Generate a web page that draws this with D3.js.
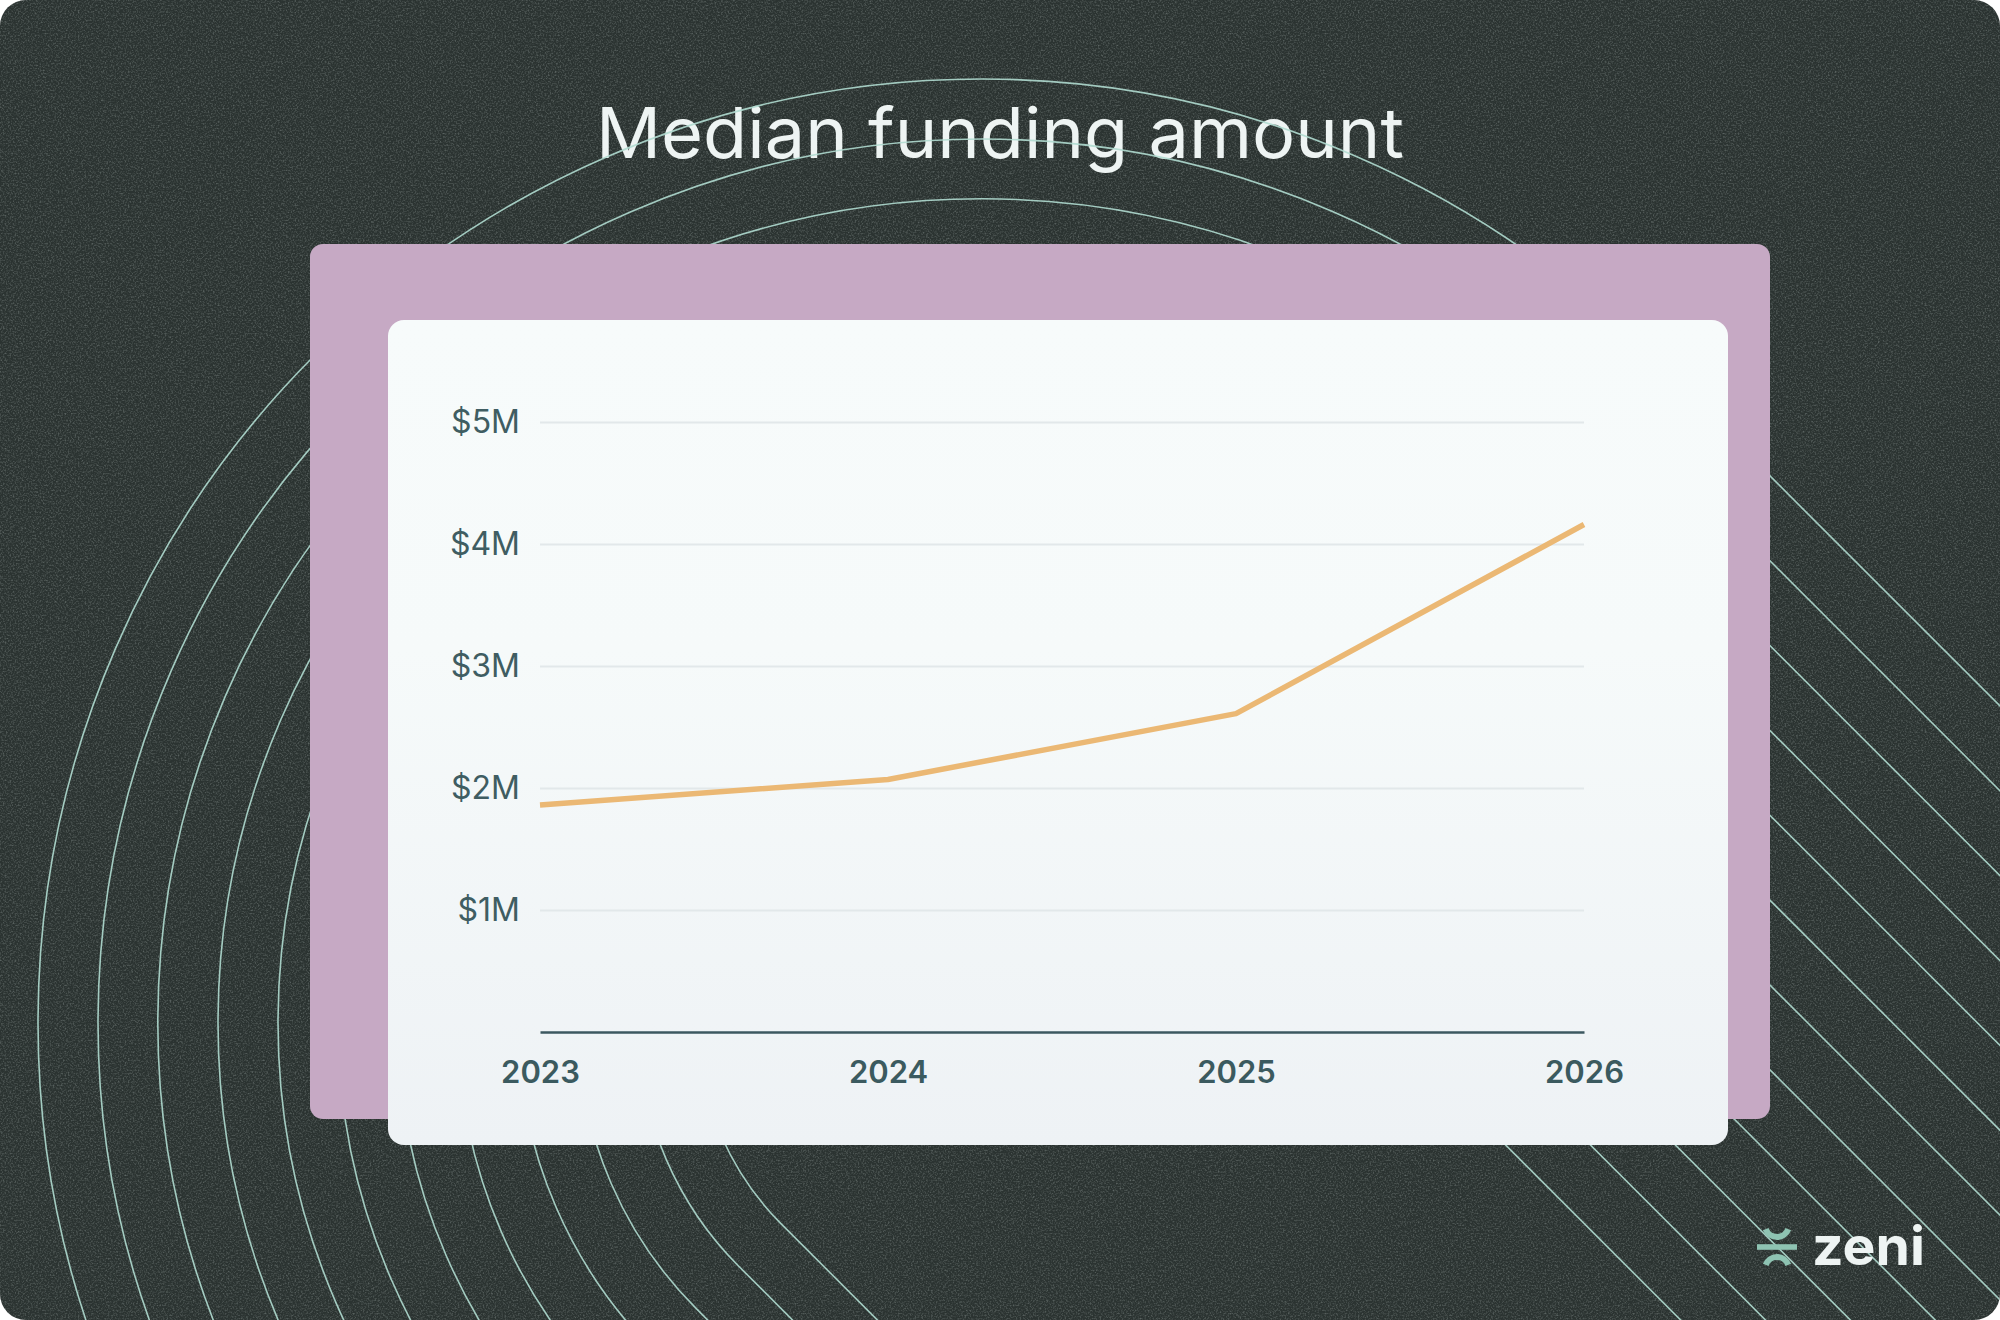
<!DOCTYPE html>
<html>
<head>
<meta charset="utf-8">
<script src="https://cdn.jsdelivr.net/npm/d3@7"></script>
<style>
  html, body { margin: 0; padding: 0; background: #ffffff; }
  svg { display: block; }
</style>
</head>
<body>
<svg id="chart" width="2000" height="1320"></svg>
<script>
// chart data
const years = ["2023", "2024", "2025", "2026"];
const medianFunding = [1.86, 2.07, 2.61, 4.16];   // $ millions
const yTicks = [1, 2, 3, 4, 5];
const title = "Median funding amount";

const svg = d3.select("#chart");
const W = +svg.attr("width"), H = +svg.attr("height");

const defs = svg.append("defs");

// grain for the dark background
const noise = defs.append("filter").attr("id", "grain")
  .attr("x", 0).attr("y", 0).attr("width", "100%").attr("height", "100%");
noise.append("feTurbulence")
  .attr("type", "fractalNoise")
  .attr("baseFrequency", 0.6)
  .attr("numOctaves", 2)
  .attr("seed", 7);
noise.append("feColorMatrix")
  .attr("type", "matrix")
  .attr("values", "0 0 0 0 0.55  0 0 0 0 0.62  0 0 0 0 0.6  1.8 0 0 0 -0.8");

const cardGrad = defs.append("linearGradient").attr("id", "cardGrad")
  .attr("x1", 0).attr("y1", 0).attr("x2", 0).attr("y2", 1);
cardGrad.append("stop").attr("offset", "0%").attr("stop-color", "#f7fbfb");
cardGrad.append("stop").attr("offset", "40%").attr("stop-color", "#f6fafa");
cardGrad.append("stop").attr("offset", "100%").attr("stop-color", "#eef2f5");

// background
svg.append("rect")
  .attr("width", W).attr("height", H)
  .attr("rx", 26)
  .attr("fill", "#2b3331");
defs.append("clipPath").attr("id", "bgClip")
  .append("rect").attr("width", W).attr("height", H).attr("rx", 26);
svg.append("rect")
  .attr("width", W).attr("height", H)
  .attr("clip-path", "url(#bgClip)")
  .attr("filter", "url(#grain)")
  .attr("opacity", 0.4);

// title
svg.append("text")
  .attr("x", 1000)
  .attr("y", 158)
  .attr("text-anchor", "middle")
  .attr("font-family", "Inter, 'Open Sans', sans-serif")
  .attr("font-size", 70)
  .attr("font-weight", 400)
  .attr("fill", "#eef4f3")
  .attr("textLength", 808)
  .attr("lengthAdjust", "spacingAndGlyphs")
  .text(title);

// concentric capsule outlines, round end top-left, running off down-right
const cx = 982, cy = 1023, s = Math.SQRT1_2;
const radii = d3.range(284, 945, 60);
const deco = svg.append("g").attr("clip-path", "url(#bgClip)");
deco.selectAll("path")
  .data(radii)
  .join("path")
  .attr("d", r => {
    const p = d3.path();
    const x1 = cx - r * s, y1 = cy + r * s;
    const x2 = cx + r * s, y2 = cy - r * s;
    p.moveTo(x1 + 1500, y1 + 1500);
    p.lineTo(x1, y1);
    p.arc(cx, cy, r, 3 * Math.PI / 4, 7 * Math.PI / 4, false);
    p.lineTo(x2 + 1500, y2 + 1500);
    return p.toString();
  })
  .attr("fill", "none")
  .attr("stroke", "#b0dcd0")
  .attr("stroke-opacity", 0.9)
  .attr("stroke-width", 1.6);

// cards
svg.append("rect")
  .attr("x", 310).attr("y", 244)
  .attr("width", 1460).attr("height", 875)
  .attr("rx", 13)
  .attr("fill", "#c6a9c4");

svg.append("rect")
  .attr("x", 388).attr("y", 320)
  .attr("width", 1340).attr("height", 825)
  .attr("rx", 16)
  .attr("fill", "url(#cardGrad)");

// chart
const x = d3.scalePoint().domain(years).range([540, 1584]);
const y = d3.scaleLinear().domain([0, 5]).range([1032, 422]);

const yAxis = svg.append("g")
  .attr("transform", "translate(540,0)")
  .call(d3.axisLeft(y)
    .tickValues(yTicks)
    .tickSize(-(1584 - 540))
    .tickPadding(20)
    .tickFormat(d => `$${d}M`));
yAxis.select(".domain").remove();
yAxis.selectAll(".tick line")
  .attr("stroke", "#e2e8ea")
  .attr("stroke-width", 2);
yAxis.selectAll(".tick text")
  .attr("font-family", "Inter, 'Open Sans', sans-serif")
  .attr("font-size", 32)
  .attr("font-weight", 400)
  .attr("fill", "#3f5d62");

const xAxis = svg.append("g")
  .attr("transform", `translate(0,${y(0)})`)
  .call(d3.axisBottom(x).tickSize(0).tickPadding(29).tickSizeOuter(0));
xAxis.select(".domain")
  .attr("stroke", "#3d5860")
  .attr("stroke-width", 2.5);
xAxis.selectAll(".tick text")
  .attr("font-family", "Inter, 'Open Sans', sans-serif")
  .attr("font-size", 31)
  .attr("font-weight", 600)
  .attr("fill", "#3b5a5f");

const line = d3.line()
  .x((d, i) => x(years[i]))
  .y(d => y(d));

svg.append("path")
  .datum(medianFunding)
  .attr("d", line)
  .attr("fill", "none")
  .attr("stroke", "#ebb874")
  .attr("stroke-width", 5.5)
  .attr("stroke-linejoin", "round");

// zeni logo
const logo = svg.append("g").attr("transform", "translate(1777,1247)");
logo.append("rect")
  .attr("x", -20).attr("y", -2.8)
  .attr("width", 40).attr("height", 5.6)
  .attr("fill", "#8ec3b2");
logo.append("path")
  .attr("d", d3.arc()({ innerRadius: 9, outerRadius: 15, startAngle: Math.PI / 2 + 0.35, endAngle: 3 * Math.PI / 2 - 0.35 }))
  .attr("transform", "translate(0,-22)")
  .attr("fill", "#8ec3b2");
logo.append("path")
  .attr("d", d3.arc()({ innerRadius: 9, outerRadius: 15, startAngle: -Math.PI / 2 + 0.35, endAngle: Math.PI / 2 - 0.35 }))
  .attr("transform", "translate(0,22)")
  .attr("fill", "#8ec3b2");
svg.append("text")
  .attr("x", 1812)
  .attr("y", 1265)
  .attr("font-family", "Inter, Lato, sans-serif")
  .attr("font-size", 54)
  .attr("font-weight", 700)
  .attr("fill", "#eef4f3")
  .attr("textLength", 113)
  .attr("lengthAdjust", "spacingAndGlyphs")
  .text("zeni");
</script>
</body>
</html>
